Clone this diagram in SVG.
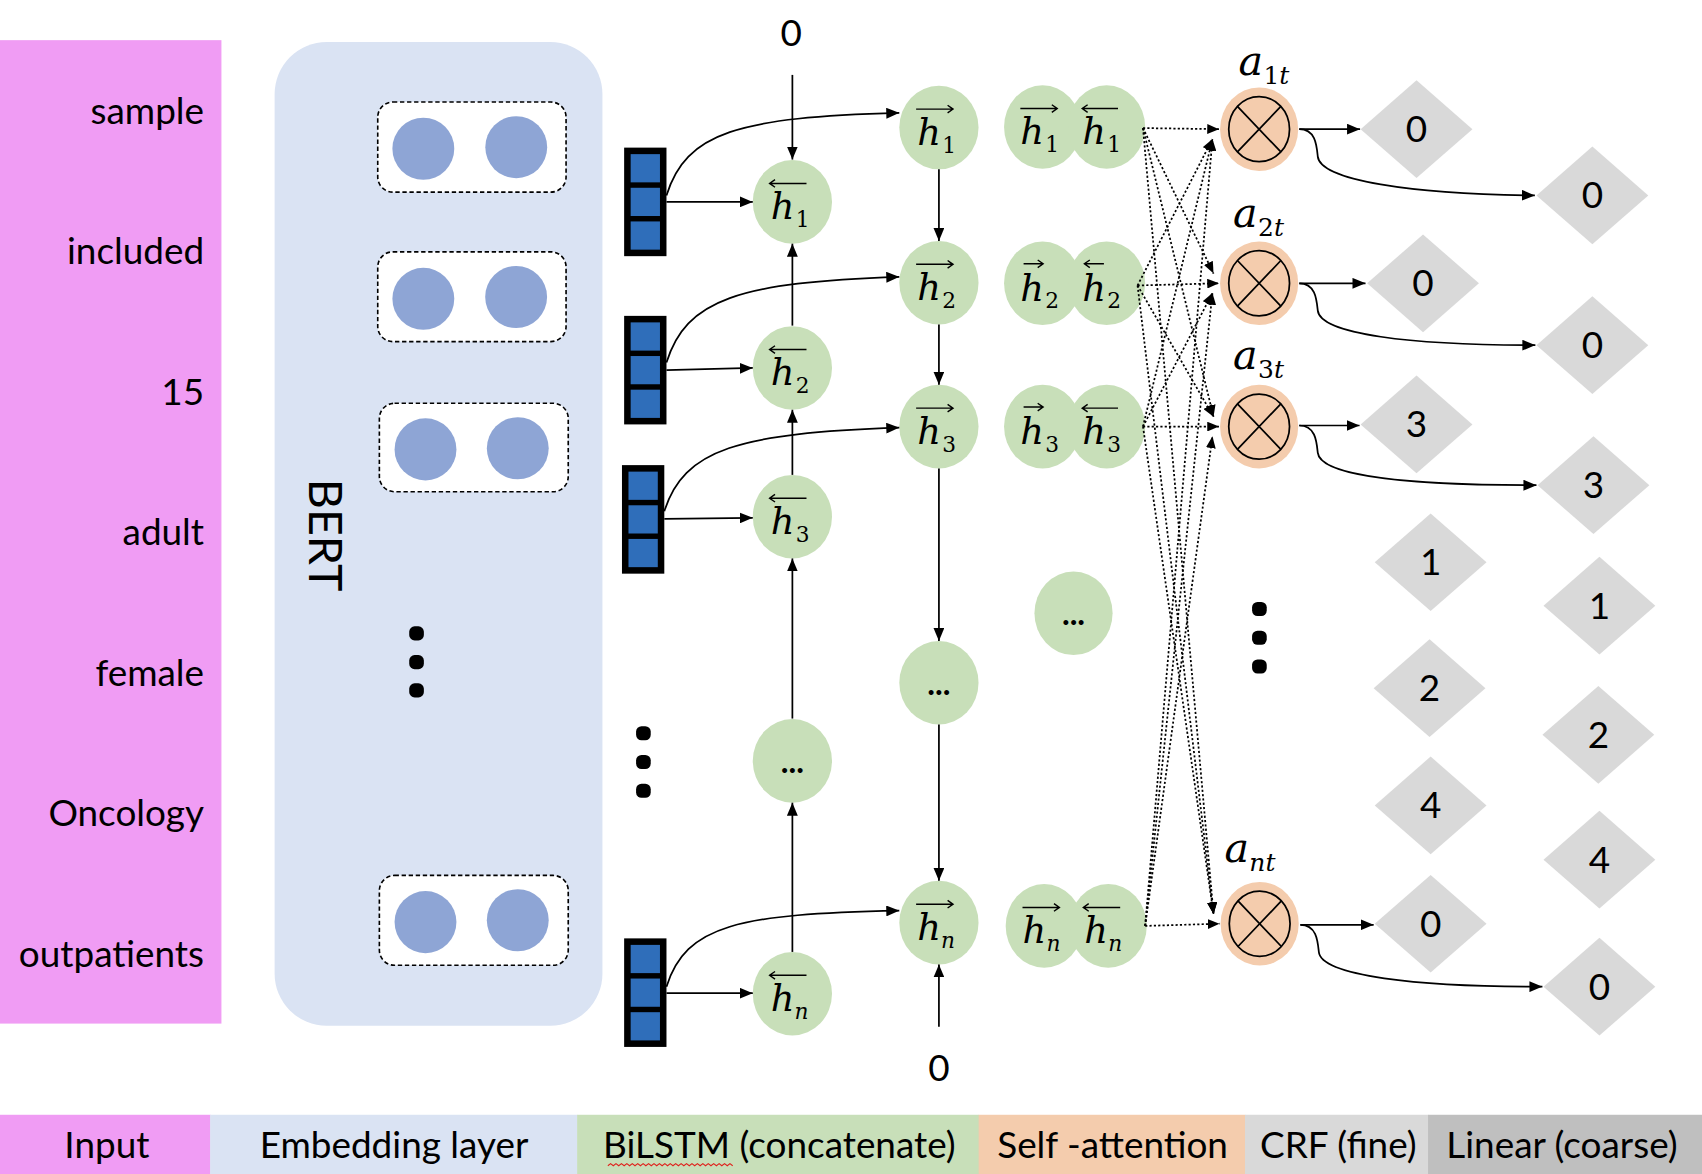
<svg xmlns="http://www.w3.org/2000/svg" width="1702" height="1174" viewBox="0 0 1702 1174">
<defs>
<style>
.t{font-family:Lato,"Open Sans","Liberation Sans",sans-serif;font-size:34px;fill:#000}
.w{text-anchor:end}
.m{text-anchor:middle}
.bert{font-size:43px}
.ell{font-size:30px;font-weight:bold}
.h{font-family:"DejaVu Serif","Liberation Serif",serif;font-style:italic;font-size:34px;fill:#000}
.a{font-size:38px}
.s{font-family:"DejaVu Serif","Liberation Serif",serif;font-size:20px;fill:#000}
.as{font-size:23px}
.si{font-style:italic}
.g{fill:#C8DFB9}
.o{fill:#F4CCAD}
.dia{fill:#D9D9D9}
.emb{fill:#8EA5D5}
.box{fill:#fff;stroke:#000;stroke-width:1.5;stroke-dasharray:4 2.5}
.oa{fill:none;stroke:#000;stroke-width:1.3}
.e{fill:none;stroke:#000;stroke-width:1.6}
.d{fill:none;stroke:#000;stroke-width:1.6;stroke-dasharray:2 2}
.dt{fill:#000}
.x{fill:none;stroke:#000;stroke-width:1.6}
</style>
<marker id="arr" viewBox="0 0 12 10" refX="12" refY="5" markerWidth="12" markerHeight="10" markerUnits="userSpaceOnUse" orient="auto"><path d="M0,0 L12,5 L0,10 z" fill="#000"/></marker>
<marker id="arrs" viewBox="0 0 12 10" refX="12" refY="5" markerWidth="11" markerHeight="9" markerUnits="userSpaceOnUse" orient="auto"><path d="M0,0 L12,5 L0,10 z" fill="#000"/></marker>
</defs>
<rect width="1702" height="1174" fill="#fff"/>
<g transform="scale(1.08546)">

<g id="input">
<rect x="0" y="37" width="204" height="906" fill="#F09CF4"/>
<text class="t w" x="188" y="114">sample</text>
<text class="t w" x="188" y="243">included</text>
<text class="t w" x="188" y="373">15</text>
<text class="t w" x="188" y="502">adult</text>
<text class="t w" x="188" y="632">female</text>
<text class="t w" x="188" y="761">Oncology</text>
<text class="t w" x="188" y="891">outpatients</text>
</g>

<g id="bert">
<rect x="253" y="38.7" width="302" height="906.3" rx="48" ry="48" fill="#DAE3F3"/>
<text class="t m bert" transform="translate(285,493) rotate(90)">BERT</text>
<rect class="dt" x="377" y="577" width="13.5" height="13" rx="5"/>
<rect class="dt" x="377" y="603.5" width="13.5" height="13" rx="5"/>
<rect class="dt" x="377" y="629.5" width="13.5" height="13" rx="5"/>
</g>
<g id="emb1">
<rect class="box" x="348" y="94" width="173.5" height="83" rx="14"/>
<ellipse class="emb" cx="390" cy="137" rx="28.5" ry="28.6"/>
<ellipse class="emb" cx="475.6" cy="135.6" rx="28.5" ry="28.6"/>
</g>
<g id="emb2">
<rect class="box" x="348" y="232" width="173.5" height="82.7" rx="14"/>
<ellipse class="emb" cx="390" cy="275.3" rx="28.5" ry="28.6"/>
<ellipse class="emb" cx="475.5" cy="273.6" rx="28.5" ry="28.6"/>
</g>
<g id="emb3">
<rect class="box" x="349.5" y="371.5" width="174" height="81.5" rx="14"/>
<ellipse class="emb" cx="392" cy="414" rx="28.5" ry="28.6"/>
<ellipse class="emb" cx="477" cy="413" rx="28.5" ry="28.6"/>
</g>
<g id="emb4">
<rect class="box" x="349.5" y="806.5" width="174" height="82.8" rx="14"/>
<ellipse class="emb" cx="392" cy="849.5" rx="28.5" ry="28.6"/>
<ellipse class="emb" cx="477" cy="847.8" rx="28.5" ry="28.6"/>
</g>

<g id="vec1"><rect x="575" y="136" width="39" height="100" fill="#000"/><rect x="581" y="142" width="27" height="26" fill="#2F6EBA"/><rect x="581" y="173" width="27" height="26" fill="#2F6EBA"/><rect x="581" y="204" width="27" height="26" fill="#2F6EBA"/></g>
<g id="vec2"><rect x="575" y="291" width="39" height="100" fill="#000"/><rect x="581" y="297" width="27" height="26" fill="#2F6EBA"/><rect x="581" y="328" width="27" height="26" fill="#2F6EBA"/><rect x="581" y="359" width="27" height="26" fill="#2F6EBA"/></g>
<g id="vec3"><rect x="573" y="428.5" width="39" height="100" fill="#000"/><rect x="579" y="434.5" width="27" height="26" fill="#2F6EBA"/><rect x="579" y="465.5" width="27" height="26" fill="#2F6EBA"/><rect x="579" y="496.5" width="27" height="26" fill="#2F6EBA"/></g>
<g id="vec4"><rect x="575" y="864.5" width="39" height="100" fill="#000"/><rect x="581" y="870.5" width="27" height="26" fill="#2F6EBA"/><rect x="581" y="901.5" width="27" height="26" fill="#2F6EBA"/><rect x="581" y="932.5" width="27" height="26" fill="#2F6EBA"/></g>
<g id="vdots">
<rect class="dt" x="586" y="669" width="13.5" height="13" rx="5"/>
<rect class="dt" x="586" y="695.5" width="13.5" height="13" rx="5"/>
<rect class="dt" x="586" y="722" width="13.5" height="13" rx="5"/>
</g>

<text class="t m" x="729" y="42">0</text>
<text class="t m" x="865" y="996">0</text>

<!-- backward column -->
<g id="bh1"><ellipse class="g" cx="730" cy="186" rx="36.5" ry="38.5"/>
<path class="oa" d="M709,169 H743 M714,165.5 L709,169 L714,172.5"/>
<text class="h" x="710" y="202">h</text><text class="s" x="733" y="209">1</text></g>
<g id="bh2"><ellipse class="g" cx="730" cy="339" rx="36.5" ry="38.5"/>
<path class="oa" d="M709,322 H743 M714,318.5 L709,322 L714,325.5"/>
<text class="h" x="710" y="355">h</text><text class="s" x="733" y="362">2</text></g>
<g id="bh3"><ellipse class="g" cx="730" cy="476" rx="36.5" ry="38.5"/>
<path class="oa" d="M709,459 H743 M714,455.5 L709,459 L714,462.5"/>
<text class="h" x="710" y="492">h</text><text class="s" x="733" y="499">3</text></g>
<g id="bdots"><ellipse class="g" cx="730" cy="701" rx="36.5" ry="38.5"/>
<text class="t m ell" x="730" y="712">...</text></g>
<g id="bhn"><ellipse class="g" cx="730" cy="915.5" rx="36.5" ry="38.5"/>
<path class="oa" d="M709,898.5 H743 M714,895 L709,898.5 L714,902"/>
<text class="h" x="710" y="931.5">h</text><text class="s si" x="732" y="938.5">n</text></g>

<!-- forward column -->
<g id="fh1"><ellipse class="g" cx="865" cy="117.5" rx="36.5" ry="38.5"/>
<path class="oa" d="M844,100.5 H878 M873,97 L878,100.5 L873,104"/>
<text class="h" x="845" y="133.5">h</text><text class="s" x="868" y="140.5">1</text></g>
<g id="fh2"><ellipse class="g" cx="865" cy="260.5" rx="36.5" ry="38.5"/>
<path class="oa" d="M844,243.5 H878 M873,240 L878,243.5 L873,247"/>
<text class="h" x="845" y="276.5">h</text><text class="s" x="868" y="283.5">2</text></g>
<g id="fh3"><ellipse class="g" cx="865" cy="393" rx="36.5" ry="38.5"/>
<path class="oa" d="M844,376 H878 M873,372.5 L878,376 L873,379.5"/>
<text class="h" x="845" y="409">h</text><text class="s" x="868" y="416">3</text></g>
<g id="fdots"><ellipse class="g" cx="865" cy="629" rx="36.5" ry="38.5"/>
<text class="t m ell" x="865" y="640">...</text></g>
<g id="fhn"><ellipse class="g" cx="865" cy="850" rx="36.5" ry="38.5"/>
<path class="oa" d="M844,833 H878 M873,829.5 L878,833 L873,836.5"/>
<text class="h" x="845" y="866">h</text><text class="s si" x="867" y="873">n</text></g>

<!-- concatenated -->
<g id="cat1"><ellipse class="g" cx="960.5" cy="117" rx="35.5" ry="38.5"/><ellipse class="g" cx="1019.5" cy="117" rx="35.5" ry="38.5"/>
<path class="oa" d="M940,100 H974 M969,96.5 L974,100 L969,103.5"/>
<text class="h" x="940" y="133">h</text><text class="s" x="963" y="140">1</text>
<path class="oa" d="M997,100 H1030 M1002,96.5 L997,100 L1002,103.5"/>
<text class="h" x="997" y="133">h</text><text class="s" x="1020" y="140">1</text></g>
<g id="cat2"><ellipse class="g" cx="960.5" cy="261" rx="35.5" ry="38.5"/><ellipse class="g" cx="1019.5" cy="261" rx="35.5" ry="38.5"/>
<path class="oa" d="M943,243 H961 M956,239.5 L961,243 L956,246.5"/>
<text class="h" x="940" y="277">h</text><text class="s" x="963" y="284">2</text>
<path class="oa" d="M999,243 H1017 M1004,239.5 L999,243 L1004,246.5"/>
<text class="h" x="997" y="277">h</text><text class="s" x="1020" y="284">2</text></g>
<g id="cat3"><ellipse class="g" cx="960.5" cy="393" rx="35.5" ry="38.5"/><ellipse class="g" cx="1019.5" cy="393" rx="35.5" ry="38.5"/>
<path class="oa" d="M943,375 H961 M956,371.5 L961,375 L956,378.5"/>
<text class="h" x="940" y="409">h</text><text class="s" x="963" y="416">3</text>
<path class="oa" d="M997,376 H1030 M1002,372.5 L997,376 L1002,379.5"/>
<text class="h" x="997" y="409">h</text><text class="s" x="1020" y="416">3</text></g>
<g id="catdots"><ellipse class="g" cx="989" cy="565" rx="36" ry="38.5"/>
<text class="t m ell" x="989" y="576">...</text></g>
<g id="catn"><ellipse class="g" cx="962" cy="853" rx="35.5" ry="38.5"/><ellipse class="g" cx="1021" cy="853" rx="35.5" ry="38.5"/>
<path class="oa" d="M942,836 H976 M971,832.5 L976,836 L971,839.5"/>
<text class="h" x="942" y="869">h</text><text class="s si" x="964" y="876">n</text>
<path class="oa" d="M998,836 H1032 M1003,832.5 L998,836 L1003,839.5"/>
<text class="h" x="999" y="869">h</text><text class="s si" x="1021" y="876">n</text></g>

<!-- attention -->
<g id="att1"><ellipse class="o" cx="1160" cy="119" rx="36" ry="38.5"/><ellipse class="x" cx="1160" cy="119" rx="28" ry="30"/><path class="x" d="M1140,98 L1180,140 M1180,98 L1140,140"/>
<text class="h a" x="1141" y="69">a</text><text class="s as" x="1164" y="77">1<tspan class="si">t</tspan></text></g>
<g id="att2"><ellipse class="o" cx="1160" cy="261" rx="36" ry="38.5"/><ellipse class="x" cx="1160" cy="261" rx="28" ry="30"/><path class="x" d="M1140,240 L1180,282 M1180,240 L1140,282"/>
<text class="h a" x="1136" y="209">a</text><text class="s as" x="1159" y="217">2<tspan class="si">t</tspan></text></g>
<g id="att3"><ellipse class="o" cx="1160" cy="393" rx="36" ry="38.5"/><ellipse class="x" cx="1160" cy="393" rx="28" ry="30"/><path class="x" d="M1140,372 L1180,414 M1180,372 L1140,414"/>
<text class="h a" x="1136" y="340">a</text><text class="s as" x="1159" y="348">3<tspan class="si">t</tspan></text></g>
<g id="attdots">
<rect class="dt" x="1153.5" y="554.5" width="13.5" height="13" rx="5"/>
<rect class="dt" x="1153.5" y="581" width="13.5" height="13" rx="5"/>
<rect class="dt" x="1153.5" y="607.5" width="13.5" height="13" rx="5"/>
</g>
<g id="attn"><ellipse class="o" cx="1160.5" cy="851" rx="36" ry="38.5"/><ellipse class="x" cx="1160.5" cy="851" rx="28" ry="30"/><path class="x" d="M1140.5,830 L1180.5,872 M1180.5,830 L1140.5,872"/>
<text class="h a" x="1128" y="794">a</text><text class="s as si" x="1151" y="802">nt</text></g>

<!-- CRF diamonds -->
<g id="crf1"><polygon class="dia" points="1253.5,119 1305,74 1356.5,119 1305,164"/><text class="t m" x="1305" y="131">0</text></g>
<g id="crf2"><polygon class="dia" points="1259.5,261 1311,216 1362.5,261 1311,306"/><text class="t m" x="1311" y="273">0</text></g>
<g id="crf3"><polygon class="dia" points="1253.5,391 1305,346 1356.5,391 1305,436"/><text class="t m" x="1305" y="403">3</text></g>
<g id="crf4"><polygon class="dia" points="1266.5,518 1318,473 1369.5,518 1318,563"/><text class="t m" x="1318" y="530">1</text></g>
<g id="crf5"><polygon class="dia" points="1265.5,634 1317,589 1368.5,634 1317,679"/><text class="t m" x="1317" y="646">2</text></g>
<g id="crf6"><polygon class="dia" points="1266.5,742 1318,697 1369.5,742 1318,787"/><text class="t m" x="1318" y="754">4</text></g>
<g id="crf7"><polygon class="dia" points="1266.5,851 1318,806 1369.5,851 1318,896"/><text class="t m" x="1318" y="863">0</text></g>

<!-- Linear diamonds -->
<g id="lin1"><polygon class="dia" points="1415.5,180 1467,135 1518.5,180 1467,225"/><text class="t m" x="1467" y="192">0</text></g>
<g id="lin2"><polygon class="dia" points="1415.5,318 1467,273 1518.5,318 1467,363"/><text class="t m" x="1467" y="330">0</text></g>
<g id="lin3"><polygon class="dia" points="1416.5,447 1468,402 1519.5,447 1468,492"/><text class="t m" x="1468" y="459">3</text></g>
<g id="lin4"><polygon class="dia" points="1422,558 1473.5,513 1525,558 1473.5,603"/><text class="t m" x="1473.5" y="570">1</text></g>
<g id="lin5"><polygon class="dia" points="1421,677 1472.5,632 1524,677 1472.5,722"/><text class="t m" x="1472.5" y="689">2</text></g>
<g id="lin6"><polygon class="dia" points="1422,792 1473.5,747 1525,792 1473.5,837"/><text class="t m" x="1473.5" y="804">4</text></g>
<g id="lin7"><polygon class="dia" points="1422,909 1473.5,864 1525,909 1473.5,954"/><text class="t m" x="1473.5" y="921">0</text></g>

<g id="connectors">
<path class="e" marker-end="url(#arr)" d="M730,69 L730,147"/>
<path class="e" marker-end="url(#arr)" d="M730,300 L730,224.5"/>
<path class="e" marker-end="url(#arr)" d="M730,437.5 L730,377.5"/>
<path class="e" marker-end="url(#arr)" d="M730,662 L730,514.5"/>
<path class="e" marker-end="url(#arr)" d="M730,877 L730,739.5"/>
<path class="e" marker-end="url(#arr)" d="M865,156 L865,222"/>
<path class="e" marker-end="url(#arr)" d="M865,299 L865,354.5"/>
<path class="e" marker-end="url(#arr)" d="M865,431.5 L865,590.5"/>
<path class="e" marker-end="url(#arr)" d="M865,667.5 L865,811.5"/>
<path class="e" marker-end="url(#arr)" d="M865,946 L865,888.5"/>

<path class="e" marker-end="url(#arr)" d="M614,186 L693.5,186"/>
<path class="e" marker-end="url(#arr)" d="M614,341 L693.5,339"/>
<path class="e" marker-end="url(#arr)" d="M612,478 L693.5,477"/>
<path class="e" marker-end="url(#arr)" d="M614,915 L693.5,915"/>
<path class="e" marker-end="url(#arr)" d="M614,180 C632,122 680,108 828.5,104"/>
<path class="e" marker-end="url(#arr)" d="M614,334 C632,276 680,260 828.5,255"/>
<path class="e" marker-end="url(#arr)" d="M612,471 C630,414 680,399 828.5,394"/>
<path class="e" marker-end="url(#arr)" d="M614,909 C632,852 680,842 828.5,839"/>

<path class="d" marker-end="url(#arrs)" d="M1053,118 L1123,119"/>
<path class="d" marker-end="url(#arrs)" d="M1053,118 L1118,252"/>
<path class="d" marker-end="url(#arrs)" d="M1053,118 L1118,384"/>
<path class="d" marker-end="url(#arrs)" d="M1053,118 L1118,842"/>
<path class="d" marker-end="url(#arrs)" d="M1048,263 L1117,128"/>
<path class="d" marker-end="url(#arrs)" d="M1048,263 L1123,261"/>
<path class="d" marker-end="url(#arrs)" d="M1048,263 L1118,384"/>
<path class="d" marker-end="url(#arrs)" d="M1048,263 L1118,842"/>
<path class="d" marker-end="url(#arrs)" d="M1053,393 L1117,128"/>
<path class="d" marker-end="url(#arrs)" d="M1053,393 L1117,270"/>
<path class="d" marker-end="url(#arrs)" d="M1053,393 L1123,393"/>
<path class="d" marker-end="url(#arrs)" d="M1053,393 L1118,842"/>
<path class="d" marker-end="url(#arrs)" d="M1055,853 L1117,128"/>
<path class="d" marker-end="url(#arrs)" d="M1055,853 L1117,270"/>
<path class="d" marker-end="url(#arrs)" d="M1055,853 L1117,402"/>
<path class="d" marker-end="url(#arrs)" d="M1055,853 L1123.5,851"/>

<path class="e" marker-end="url(#arr)" d="M1197,119 L1253,119"/>
<path class="e" marker-end="url(#arr)" d="M1197,119 C1212,119 1213,134 1214,144 C1216,166 1300,179 1414,180"/>
<path class="e" marker-end="url(#arr)" d="M1197,261 L1258,261"/>
<path class="e" marker-end="url(#arr)" d="M1197,261 C1212,261 1213,276 1214,286 C1216,308 1300,318 1414.5,318"/>
<path class="e" marker-end="url(#arr)" d="M1197,392 L1252.5,392"/>
<path class="e" marker-end="url(#arr)" d="M1197,392 C1212,392 1213,407 1214,417 C1216,439 1300,447 1415.5,447"/>
<path class="e" marker-end="url(#arr)" d="M1198,852 L1265.5,852"/>
<path class="e" marker-end="url(#arr)" d="M1198,852 C1213,852 1214,867 1215,877 C1217,899 1305,909 1421,909"/>
</g>

<g id="legend">
<rect x="0" y="1027" width="194" height="56" fill="#F09CF4"/>
<rect x="193.6" y="1027" width="338.5" height="56" fill="#DAE3F3"/>
<rect x="531.7" y="1027" width="370.3" height="56" fill="#C8DFB9"/>
<rect x="901.6" y="1027" width="245.8" height="56" fill="#F4CCAD"/>
<rect x="1147" y="1027" width="169" height="56" fill="#D9D9D9"/>
<rect x="1315.6" y="1027" width="253" height="56" fill="#BFBFBF"/>
<text class="t m" x="98.5" y="1067">Input</text>
<text class="t m" x="363" y="1067">Embedding layer</text>
<text class="t m" x="718" y="1067">BiLSTM (concatenate)</text>
<path d="M560,1074 l2.5,-2 2.5,2 2.5,-2 2.5,2 2.5,-2 2.5,2 2.5,-2 2.5,2 2.5,-2 2.5,2 2.5,-2 2.5,2 2.5,-2 2.5,2 2.5,-2 2.5,2 2.5,-2 2.5,2 2.5,-2 2.5,2 2.5,-2 2.5,2 2.5,-2 2.5,2 2.5,-2 2.5,2 2.5,-2 2.5,2 2.5,-2 2.5,2 2.5,-2 2.5,2 2.5,-2 2.5,2 2.5,-2 2.5,2 2.5,-2 2.5,2 2.5,-2 2.5,2 2.5,-2 2.5,2 2.5,-2 2.5,2 2.5,-2 2.5,2" fill="none" stroke="#E0201B" stroke-width="1"/>
<text class="t m" x="1025" y="1067">Self -attention</text>
<text class="t m" x="1233" y="1067">CRF (fine)</text>
<text class="t m" x="1439" y="1067">Linear (coarse)</text>
</g>

</g>
</svg>
